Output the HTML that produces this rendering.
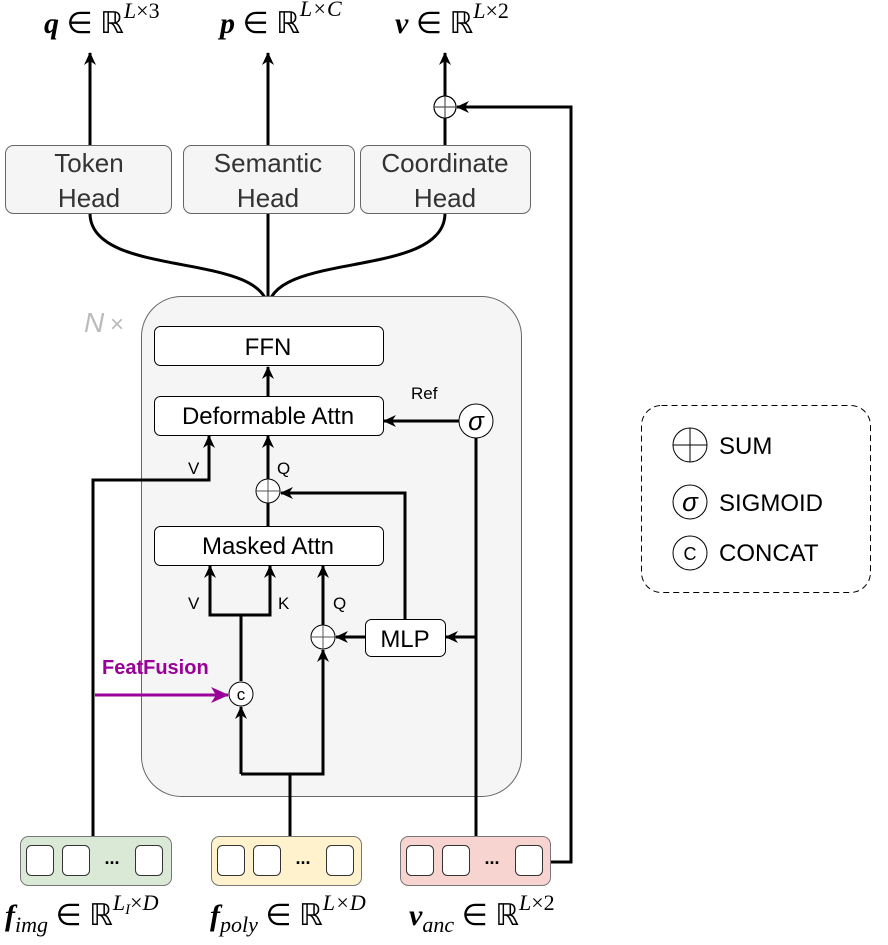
<!DOCTYPE html>
<html><head><meta charset="utf-8"><style>
html,body{margin:0;padding:0;background:#fff;}
svg text{font-family:"Liberation Sans",sans-serif;}
.m{font-family:"Liberation Serif",serif;font-size:30px;}
</style></head><body>
<svg width="888" height="940" viewBox="0 0 888 940" xmlns="http://www.w3.org/2000/svg">
<defs>
<marker id="a" markerWidth="14" markerHeight="14" refX="12" refY="7" orient="auto" markerUnits="userSpaceOnUse"><path d="M0,1 L13,7 L0,13 L4,7 Z" fill="#000"/></marker>
<marker id="p" markerWidth="18" markerHeight="16" refX="17" refY="8" orient="auto" markerUnits="userSpaceOnUse"><path d="M0,0 L18,8 L0,16 L5,8 Z" fill="#990099"/></marker>
</defs>
<!-- top labels -->
<text class="m" x="44" y="33"><tspan font-style="italic" font-weight="bold">q</tspan> ∈ ℝ<tspan dy="-15" font-size="22" font-style="italic">L</tspan><tspan font-size="22">×3</tspan></text>
<text class="m" x="220" y="33"><tspan font-style="italic" font-weight="bold">p</tspan> ∈ ℝ<tspan dy="-17" font-size="22" font-style="italic">L×C</tspan></text>
<text class="m" x="395" y="33"><tspan font-style="italic" font-weight="bold">v</tspan> ∈ ℝ<tspan dy="-15" font-size="22" font-style="italic">L</tspan><tspan font-size="22">×2</tspan></text>
<!-- output arrows -->
<g stroke="#000" stroke-width="3" fill="none">
<line x1="90" y1="145" x2="90" y2="53" marker-end="url(#a)"/>
<line x1="268" y1="145" x2="268" y2="53" marker-end="url(#a)"/>
<line x1="445" y1="96" x2="445" y2="53" marker-end="url(#a)"/>
<line x1="445" y1="145" x2="445" y2="118"/>
<polyline points="548,862 571,862 571,107 457,107" marker-end="url(#a)"/>
<path d="M90,213 C90,280 268,250 268,310"/>
<path d="M445,213 C445,280 268,250 268,310"/>
<line x1="268" y1="213" x2="268" y2="326"/>
</g>
<circle cx="445" cy="107" r="11" fill="#fff" stroke="#000" stroke-width="1.2"/>
<path d="M434,107 H456 M445,96 V118" stroke="#555" stroke-width="1.2"/>
<!-- heads -->
<g fill="#f5f5f5" stroke="#666" stroke-width="1">
<rect x="5.5" y="145.5" width="166" height="68" rx="8"/>
<rect x="183.5" y="145.5" width="171" height="68" rx="8"/>
<rect x="360.5" y="145.5" width="170" height="68" rx="8"/>
</g>
<g font-size="26" fill="#333" text-anchor="middle">
<text x="89" y="172">Token</text><text x="89" y="207">Head</text>
<text x="268" y="172">Semantic</text><text x="268" y="207">Head</text>
<text x="445" y="172">Coordinate</text><text x="445" y="207">Head</text>
</g>
<!-- container -->
<rect x="141.5" y="296.5" width="380" height="500" rx="40" fill="#f5f5f5" stroke="#666"/>
<text x="84" y="332" font-family="Liberation Serif,serif" font-size="28" font-style="italic" fill="#bbb">N</text><text x="110" y="332" font-size="24" fill="#bbb">×</text>
<!-- connectors -->
<g stroke="#000" stroke-width="3" fill="none">
<line x1="268" y1="396" x2="268" y2="367" marker-end="url(#a)"/>
<line x1="460" y1="421" x2="384" y2="421" marker-end="url(#a)"/>
<line x1="476" y1="438" x2="476" y2="836"/>
<polyline points="93,836 93,480 209,480 209,436" marker-end="url(#a)"/>
<line x1="268" y1="479" x2="268" y2="436" marker-end="url(#a)"/>
<line x1="268" y1="503" x2="268" y2="526"/>
<polyline points="405,619 405,493 281,493" marker-end="url(#a)"/>
<line x1="476" y1="637" x2="446" y2="637" marker-end="url(#a)"/>
<line x1="365" y1="637" x2="336" y2="637" marker-end="url(#a)"/>
<line x1="323" y1="625" x2="323" y2="566" marker-end="url(#a)"/>
<polyline points="241,681 241,615 210,615 210,566" marker-end="url(#a)"/>
<polyline points="241,615 270,615 270,566" marker-end="url(#a)"/>
<polyline points="241,774 241,707" marker-end="url(#a)"/>
<polyline points="241,774 323,774 323,650" marker-end="url(#a)"/>
<line x1="290" y1="774" x2="290" y2="836"/>
</g>
<line x1="95" y1="695" x2="228" y2="695" stroke="#990099" stroke-width="3" marker-end="url(#p)"/>
<text x="102" y="674" font-size="20" font-weight="bold" fill="#990099">FeatFusion</text>
<!-- boxes -->
<g fill="#fff" stroke="#000" stroke-width="1">
<rect x="154.5" y="326.5" width="229" height="39" rx="6"/>
<rect x="154.5" y="396.5" width="229" height="39" rx="6"/>
<rect x="154.5" y="526.5" width="229" height="39" rx="6"/>
<rect x="365.5" y="619.5" width="80" height="37" rx="6"/>
</g>
<g font-size="24" text-anchor="middle">
<text x="268" y="355">FFN</text>
<text x="268" y="424">Deformable Attn</text>
<text x="268" y="554">Masked Attn</text>
<text x="405" y="647">MLP</text>
</g>
<g font-size="17">
<text x="411" y="399">Ref</text>
<text x="188" y="474">V</text><text x="277" y="474">Q</text>
<text x="188" y="609">V</text><text x="278" y="609">K</text><text x="333" y="609">Q</text>
</g>
<!-- circles -->
<circle cx="476" cy="421" r="17" fill="#fff" stroke="#000"/>
<text x="476" y="430" font-family="Liberation Serif,serif" font-size="26" font-style="italic" text-anchor="middle">σ</text>
<circle cx="268" cy="491" r="12" fill="#fff" stroke="#000"/><path d="M256,491 H280 M268,479 V503" stroke="#555"/>
<circle cx="323" cy="637" r="12" fill="#fff" stroke="#000"/><path d="M311,637 H335 M323,625 V649" stroke="#555"/>
<circle cx="241" cy="694" r="12" fill="#fff" stroke="#000"/>
<text x="241" y="700" font-size="17" text-anchor="middle">c</text>
<!-- bottom boxes -->
<rect x="20.5" y="836.5" width="151" height="49" rx="8" fill="#dae8d6" stroke="#777"/>
<rect x="211.5" y="836.5" width="150" height="49" rx="8" fill="#fff2cc" stroke="#777"/>
<rect x="400.5" y="836.5" width="150" height="49" rx="8" fill="#f8d4d0" stroke="#777"/>
<g fill="#fff" stroke="#333">
<rect x="26.5" y="845.5" width="27" height="30" rx="5"/><rect x="62.5" y="845.5" width="27" height="30" rx="5"/><rect x="135.5" y="845.5" width="27" height="30" rx="5"/>
<rect x="217.5" y="845.5" width="27" height="30" rx="5"/><rect x="253.5" y="845.5" width="27" height="30" rx="5"/><rect x="326.5" y="845.5" width="27" height="30" rx="5"/>
<rect x="406.5" y="845.5" width="27" height="30" rx="5"/><rect x="442.5" y="845.5" width="27" height="30" rx="5"/><rect x="515.5" y="845.5" width="27" height="30" rx="5"/>
</g>
<g font-size="18" font-weight="bold" text-anchor="middle"><text x="112" y="864">...</text><text x="303" y="864">...</text><text x="492" y="864">...</text></g>
<!-- bottom labels -->
<text class="m" x="5" y="925"><tspan font-style="italic" font-weight="bold">f</tspan><tspan dy="7" font-size="22" font-style="italic">img</tspan><tspan dy="-7"> ∈ ℝ</tspan><tspan dy="-15" font-size="22" font-style="italic">L</tspan><tspan dy="4" font-size="15" font-style="italic">I</tspan><tspan dy="-4" font-size="22">×</tspan><tspan font-size="22" font-style="italic">D</tspan></text>
<text class="m" x="210" y="925"><tspan font-style="italic" font-weight="bold">f</tspan><tspan dy="7" font-size="22" font-style="italic">poly</tspan><tspan dy="-7"> ∈ ℝ</tspan><tspan dy="-15" font-size="22" font-style="italic">L×D</tspan></text>
<text class="m" x="409" y="925"><tspan font-style="italic" font-weight="bold">v</tspan><tspan dy="7" font-size="22" font-style="italic">anc</tspan><tspan dy="-7"> ∈ ℝ</tspan><tspan dy="-15" font-size="22" font-style="italic">L</tspan><tspan font-size="22">×2</tspan></text>
<!-- legend -->
<rect x="641.5" y="405.5" width="229" height="187" rx="20" fill="#fff" stroke="#000" stroke-dasharray="6,4"/>
<circle cx="690" cy="445" r="17" fill="#fff" stroke="#000"/><path d="M673,445 H707 M690,428 V462" stroke="#000"/>
<text x="719" y="454" font-size="24">SUM</text>
<circle cx="690" cy="502" r="17" fill="#fff" stroke="#000"/>
<text x="690" y="511" font-family="Liberation Serif,serif" font-size="26" font-style="italic" text-anchor="middle">σ</text>
<text x="719" y="511" font-size="24">SIGMOID</text>
<circle cx="690" cy="553" r="17" fill="#fff" stroke="#000"/>
<text x="690" y="560" font-size="18" text-anchor="middle">C</text>
<text x="719" y="561" font-size="24">CONCAT</text>
</svg>
</body></html>
